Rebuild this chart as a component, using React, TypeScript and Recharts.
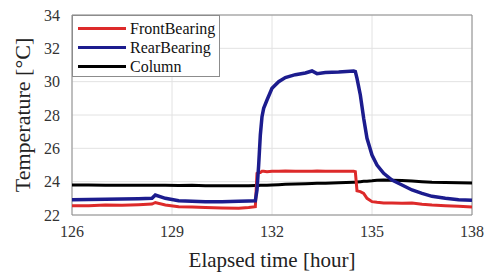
import { CartesianGrid, Legend, Line, LineChart, ReferenceArea, XAxis, YAxis } from "recharts";

const times = [
  126, 126.5, 127, 127.5, 128, 128.4, 128.5, 128.8, 129.2, 129.6, 130, 130.5, 131, 131.3, 131.5,
  131.55, 131.6, 131.65, 131.7, 131.75, 131.85, 132, 132.2, 132.4, 132.7, 133, 133.2, 133.35,
  133.6, 134, 134.45, 134.5, 134.55, 134.65, 134.75, 134.85, 135, 135.15, 135.35, 135.6, 135.9,
  136.2, 136.5, 136.8, 137.2, 137.6, 138,
];

const frontBearing = [
  22.56, 22.55, 22.6, 22.58, 22.62, 22.66, 22.75, 22.6, 22.5, 22.48, 22.45, 22.42, 22.4, 22.45,
  22.5, 24.5, 24.55, 24.55, 24.62, 24.62, 24.6, 24.63, 24.62, 24.64, 24.62, 24.63, 24.62, 24.64,
  24.62, 24.63, 24.62, 24.6, 23.45, 23.4, 23.3, 23.0, 22.8, 22.76, 22.72, 22.72, 22.7, 22.72,
  22.65, 22.6, 22.56, 22.52, 22.48,
];

const rearBearing = [
  22.92, 22.93, 22.95, 22.96, 22.98, 23.0, 23.2, 23.0, 22.85, 22.82, 22.8, 22.8, 22.82, 22.84,
  22.85, 23.5, 25.0, 26.8, 27.9, 28.4, 28.9, 29.6, 30.0, 30.25, 30.42, 30.52, 30.64, 30.48,
  30.55, 30.58, 30.64, 30.6, 30.2, 29.2, 27.8, 26.6, 25.6, 25.0, 24.5, 24.1, 23.8, 23.5, 23.3,
  23.12, 23.0, 22.92, 22.88,
];

const column = [
  23.8, 23.8, 23.79, 23.79, 23.78, 23.78, 23.78, 23.78, 23.77, 23.79, 23.76, 23.76, 23.76, 23.76,
  23.77, 23.77, 23.77, 23.78, 23.78, 23.78, 23.79, 23.8, 23.82, 23.84, 23.86, 23.88, 23.89, 23.9,
  23.91, 23.93, 23.96, 23.96, 23.98, 24.0, 24.02, 24.03, 24.05, 24.08, 24.1, 24.09, 24.07, 24.04,
  24.0, 23.97, 23.95, 23.93, 23.92,
];

const xTicks = [126, 129, 132, 135, 138];
const yTicks = [22, 24, 26, 28, 30, 32, 34];

const seriesNames = ["FrontBearing", "RearBearing", "Column"];
const seriesColors = ["#dd2a2a", "#1c1c8e", "#000000"];

const data = times.map((t, i) => ({
  t,
  front: frontBearing[i],
  rear: rearBearing[i],
  column: column[i],
}));

const font = "'Liberation Serif', 'Times New Roman', serif";

function LegendBox() {
  return (
    <div
      style={{
        width: 148,
        height: 62,
        border: "1px solid #8c8c8c",
        background: "#fff",
        fontFamily: font,
        fontSize: 16,
        color: "#111",
        boxSizing: "border-box",
        paddingTop: 3,
      }}
    >
      {seriesNames.map((name, i) => (
        <div key={name} style={{ display: "flex", alignItems: "center", height: 19 }}>
          <div style={{ width: 48, height: 3, marginLeft: 5, marginRight: 4, background: seriesColors[i] }} />
          <span>{name}</span>
        </div>
      ))}
    </div>
  );
}

export default function App() {
  return (
    <div
      style={{ position: "absolute", left: 0, top: 0, width: 490, height: 274, background: "#fff", fontFamily: font }}
    >
      <LineChart
        width={490}
        height={274}
        data={data}
        margin={{ top: 15, right: 18, left: 0, bottom: 0 }}
        style={{ fontFamily: font }}
      >
        <CartesianGrid stroke="#e2e2e2" strokeWidth={1} />
        <XAxis
          dataKey="t"
          type="number"
          domain={[126, 138]}
          ticks={xTicks}
          height={59}
          axisLine={false}
          tickLine={false}
          tick={{ fontSize: 16, fill: "#333", style: { fontFamily: font } }}
          tickMargin={5}
          label={{
            value: "Elapsed time [hour]",
            position: "insideBottom",
            offset: 7,
            style: { fontSize: 21, fill: "#222", fontFamily: font },
          }}
        />
        <YAxis
          type="number"
          domain={[22, 34]}
          ticks={yTicks}
          width={72}
          axisLine={false}
          tickLine={false}
          tick={{ fontSize: 16, fill: "#333", style: { fontFamily: font } }}
          tickMargin={6}
          label={{
            value: "Temperature [°C]",
            angle: -90,
            position: "insideLeft",
            offset: 22,
            style: { fontSize: 22, fill: "#222", fontFamily: font, textAnchor: "middle" },
          }}
        />
        <ReferenceArea x1={126} x2={138} y1={22} y2={34} fill="none" stroke="#8c8c8c" strokeWidth={1} ifOverflow="visible" />
        <Line dataKey="column" name="Column" stroke={seriesColors[2]} strokeWidth={3} dot={false} isAnimationActive={false} />
        <Line dataKey="front" name="FrontBearing" stroke={seriesColors[0]} strokeWidth={3} dot={false} isAnimationActive={false} />
        <Line dataKey="rear" name="RearBearing" stroke={seriesColors[1]} strokeWidth={3.5} dot={false} isAnimationActive={false} />
        <Legend
          layout="vertical"
          align="center"
          verticalAlign="middle"
          content={() => <LegendBox />}
          wrapperStyle={{ position: "absolute", left: 72, top: 15, width: 148, height: 62 }}
        />
      </LineChart>
    </div>
  );
}
